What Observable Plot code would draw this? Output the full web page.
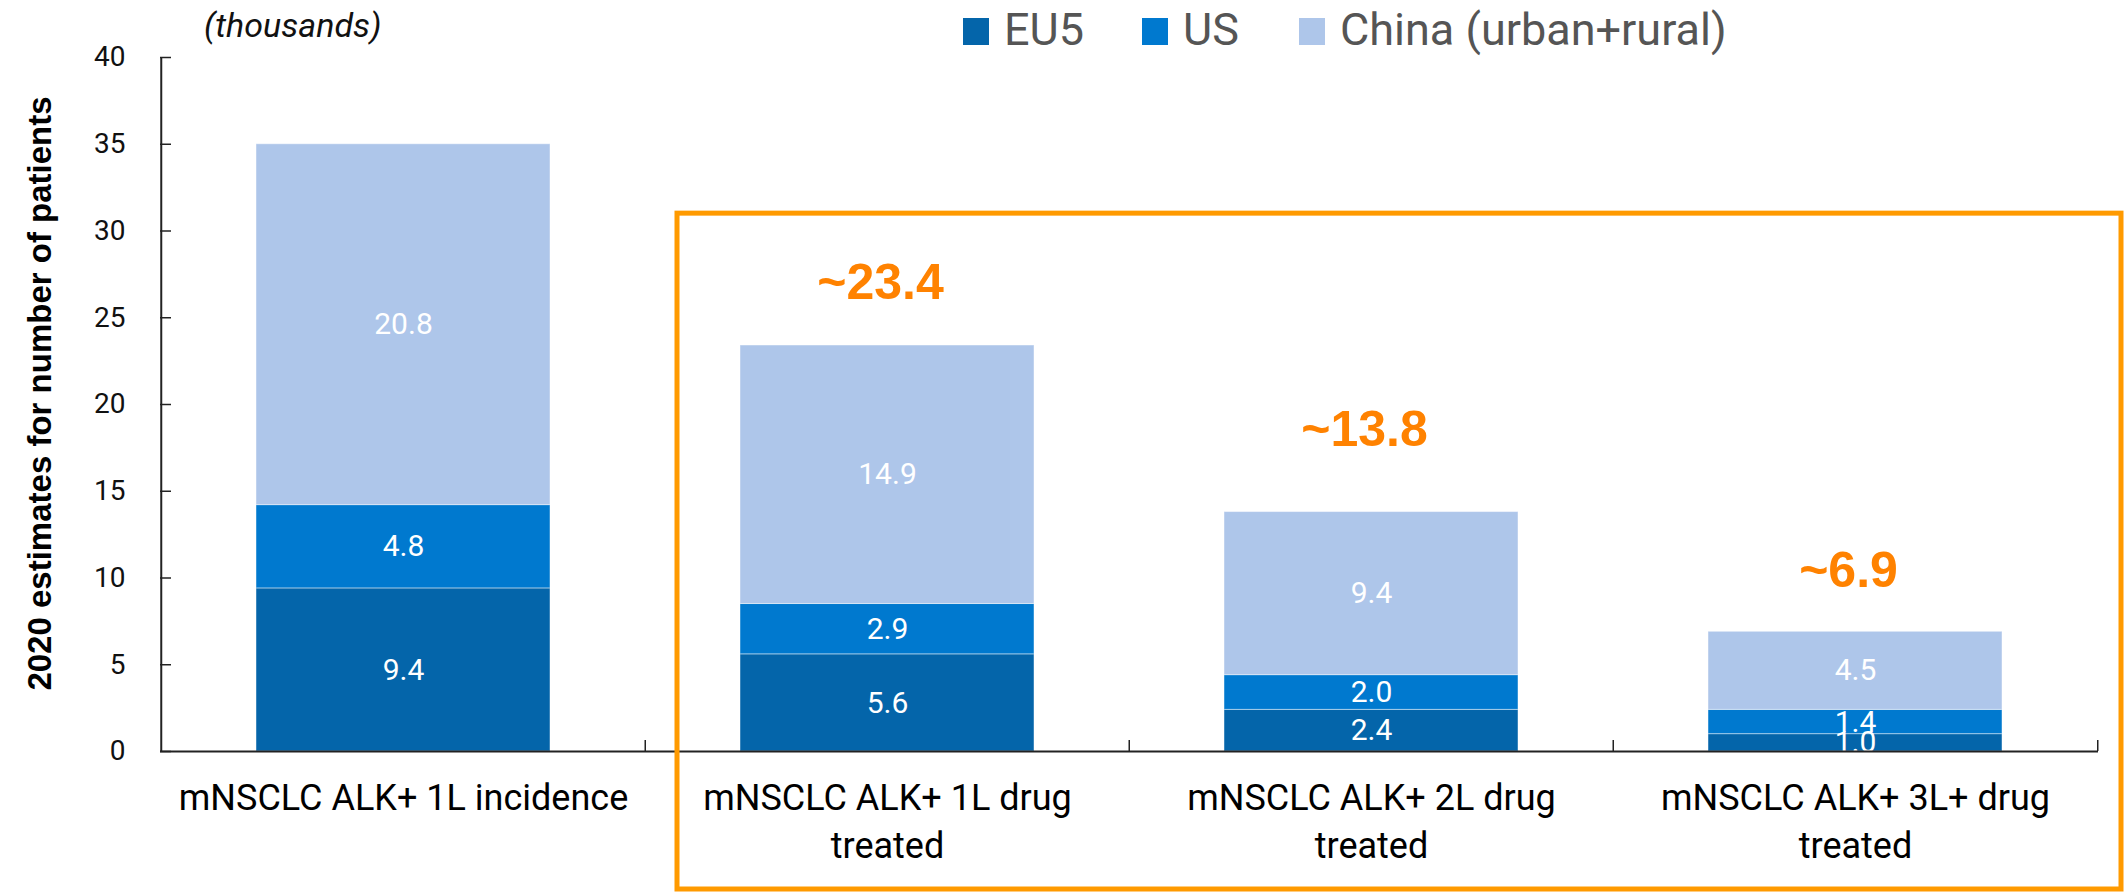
<!DOCTYPE html>
<html>
<head>
<meta charset="utf-8">
<script src="https://cdn.jsdelivr.net/npm/d3@7"></script>
<script src="https://cdn.jsdelivr.net/npm/@observablehq/plot@0.6"></script>
<style>
  html, body { margin: 0; padding: 0; background: #ffffff; }
  #wrap { position: relative; width: 2126px; height: 892px; font-family: Roboto, sans-serif; }
  #chart { position: absolute; left: 0; top: 0; }
  .swatch { position: absolute; width: 26px; height: 27px; }
  .legtext { position: absolute; font-size: 45px; color: #555555; line-height: 1; white-space: nowrap; }
  #units { position: absolute; left: 204px; top: 8px; font-size: 34px; font-style: italic; color: #111; line-height: 1; white-space: nowrap; }
</style>
</head>
<body>
<div id="wrap">
  <div id="chart"></div>
  <div id="units">(thousands)</div>
  <div id="legend"></div>
</div>
<script>
// ---------- data ----------
const categories = [
  "mNSCLC ALK+ 1L incidence",
  "mNSCLC ALK+ 1L drug treated",
  "mNSCLC ALK+ 2L drug treated",
  "mNSCLC ALK+ 3L+ drug treated"
];
const categoryLabels = [
  "mNSCLC ALK+ 1L incidence",
  "mNSCLC ALK+ 1L drug\ntreated",
  "mNSCLC ALK+ 2L drug\ntreated",
  "mNSCLC ALK+ 3L+ drug\ntreated"
];
const seriesNames = ["EU5", "US", "China (urban+rural)"];
const seriesColors = ["#0465AA", "#0079CF", "#AEC6EA"];
const eu5Values = [9.4, 5.6, 2.4, 1.0];
const usValues = [4.8, 2.9, 2.0, 1.4];
const chinaValues = [20.8, 14.9, 9.4, 4.5];
const totalCategories = ["mNSCLC ALK+ 1L drug treated", "mNSCLC ALK+ 2L drug treated", "mNSCLC ALK+ 3L+ drug treated"];
const totalValues = [23.4, 13.8, 6.9];
const totalLabels = ["~23.4", "~13.8", "~6.9"];
const yTicks = [0, 5, 10, 15, 20, 25, 30, 35, 40];
const yTitle = "2020 estimates for number of patients";

// ---------- table ----------
const seriesValues = [eu5Values, usValues, chinaValues];
const rows = [];
categories.forEach((c, i) => {
  seriesNames.forEach((s, j) => rows.push({category: c, series: s, value: seriesValues[j][i]}));
});
const totals = totalCategories.map((c, i) => ({category: c, total: totalValues[i], label: totalLabels[i]}));

const W = 2126, H = 892;
const halfStep = (W - 160 - 28) / categories.length / 2;
const fmt = d3.format(".1f");

function orangeBox(index, scales, values, dimensions) {
  const left = scales.x(categories[1]) - 63;
  const right = dimensions.width - 5;
  const top = scales.y(31);
  const bottom = dimensions.height - 3;
  return d3.create("svg:rect")
    .attr("x", left).attr("y", top)
    .attr("width", right - left).attr("height", bottom - top)
    .attr("fill", "none").attr("stroke", "#FF9A00").attr("stroke-width", 5)
    .node();
}

const annDy = [-63, -82, -61];

const plot = Plot.plot({
  width: W,
  height: H,
  marginTop: 57,
  marginBottom: 141,
  marginLeft: 160,
  marginRight: 28,
  style: {fontFamily: "Roboto, sans-serif", background: "transparent", overflow: "visible"},
  x: {domain: categories, paddingInner: 0.393, paddingOuter: 0.1965, label: null, axis: null},
  y: {domain: [0, 40], label: null, axis: null},
  color: {domain: seriesNames, range: seriesColors},
  marks: [
    Plot.barY(rows, {x: "category", y: "value", z: "series", fill: "series", order: seriesNames,
      stroke: "#ffffff", strokeOpacity: 0.45, strokeWidth: 1}),
    Plot.text(rows, Plot.stackY({x: "category", y: "value", z: "series", order: seriesNames,
      text: d => fmt(d.value), fill: "#ffffff", fontSize: 30})),
    // axis lines & ticks
    Plot.ruleY([0], {stroke: "#222", strokeWidth: 2}),
    Plot.ruleX([categories[0]], {dx: -halfStep, y1: 0, y2: 40, stroke: "#222", strokeWidth: 2}),
    Plot.ruleX(categories.slice(1), {dx: -halfStep, y1: 0, y2: 0.63, stroke: "#222", strokeWidth: 1.5}),
    Plot.ruleX([categories[categories.length - 1]], {dx: halfStep, y1: 0, y2: 0.63, stroke: "#222", strokeWidth: 1.5}),
    Plot.axisY(yTicks, {anchor: "left", tickSize: -11, tickPadding: 46, fontSize: 28, stroke: "#222", strokeWidth: 1.5,
      color: "#111", tickFormat: d => String(d), label: null}),
    Plot.axisX({anchor: "bottom", tickSize: 0, tickPadding: 24, fontSize: 36, lineHeight: 1.34, color: "#000",
      tickFormat: d => categoryLabels[categories.indexOf(d)], label: null}),
    Plot.text([yTitle], {frameAnchor: "left", textAnchor: "middle", lineAnchor: "middle", rotate: -90, dx: -120, dy: -11,
      fontSize: 33, fontWeight: "bold", fontFamily: "Liberation Sans, Arial, sans-serif", fill: "#000"}),
    // total annotations
    ...totals.map((t, i) => Plot.text([t], {x: "category", y: "total", text: "label", dy: annDy[i], dx: -7,
      fontSize: 50, fontWeight: "bold", fontFamily: "Liberation Sans, Arial, sans-serif", fill: "#FF8200"})),
    orangeBox
  ]
});
document.getElementById("chart").appendChild(plot);

// ---------- legend ----------
const legend = document.getElementById("legend");
const swatchX = [963, 1142, 1299];
seriesNames.forEach((s, i) => {
  const sw = document.createElement("div");
  sw.className = "swatch";
  sw.style.left = swatchX[i] + "px";
  sw.style.top = "18px";
  sw.style.background = seriesColors[i];
  legend.appendChild(sw);
  const tx = document.createElement("div");
  tx.className = "legtext";
  tx.style.left = (swatchX[i] + 41) + "px";
  tx.style.top = "7px";
  tx.textContent = s;
  legend.appendChild(tx);
});
</script>
</body>
</html>
